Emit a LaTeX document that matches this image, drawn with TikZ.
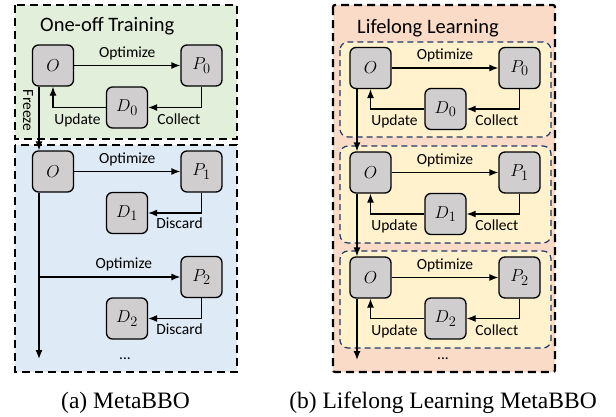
\documentclass[tikz,border=0pt]{standalone}
\usepackage{fontspec}
\setmainfont{Carlito}
\newfontfamily\capfont{Liberation Serif}
\usetikzlibrary{arrows.meta}
\usetikzlibrary{positioning}
\definecolor{greenbg}{HTML}{E2EFDA}
\definecolor{bluebg}{HTML}{DEEBF7}
\definecolor{orangebg}{HTML}{FADBC8}
\definecolor{yellowbg}{HTML}{FFF2CC}
\definecolor{blockgray}{HTML}{D0CECE}
\definecolor{stagenavy}{HTML}{1F3864}
\tikzset{blk/.style = {draw, fill=blockgray, line width=1.3pt, rounded corners=6pt,
    minimum width=41pt, minimum height=41pt, inner sep=0, font=\fontsize{19}{19}\selectfont},
  arr/.style = {-{Latex[length=9pt,width=7pt]}, line width=1.3pt},
  lbl/.style = {inner sep=0, font=\fontsize{15.5}{16}\selectfont},
  outerbox/.style = {line width=2.2pt, dash pattern=on 8pt off 5pt},
  stagebox/.style = {draw=stagenavy, fill=yellowbg, line width=1.2pt,
    dash pattern=on 6pt off 4pt, rounded corners=8pt}}
\begin{document}
\begin{tikzpicture}[x=1pt, y=-1pt]
      \useasboundingbox (0, 0) rectangle (616, 416);
      % (a) MetaBBO
      \draw [outerbox, fill=greenbg] (15, 5) rectangle (237, 139);
      \draw [outerbox, fill=bluebg] (15, 145) rectangle (237, 372);
      \node [lbl, anchor=base west, font=\fontsize{20.5}{21}\selectfont] (traintitle) at (40, 31) {One-off Training};

      \node [blk] (O0) at (53, 65.5) {$O$};
      \node [blk] (P0) at (201.5, 65.5) {$P_0$};
      \node [blk] (D0) at (127, 107.5) {$D_0$};
      \draw [arr] (O0) -- node [lbl, above=5pt] {Optimize} (P0);
      \draw [arr] (P0.south) |- (D0.east);
      \draw [arr] (D0.west) -| (O0.south);
      \node [lbl, below left=6.5pt and 5pt of D0.west] (upd0) {Update};
      \node [lbl, below right=6.5pt and 9pt of D0.east] (col0) {Collect};

      \node [blk] (O1) at (53, 171.5) {$O$};
      \node [blk] (P1) at (201.5, 171.5) {$P_1$};
      \node [blk] (D1) at (127, 213) {$D_1$};
      \node [blk] (P2) at (201.5, 277) {$P_2$};
      \node [blk] (D2) at (127, 318.5) {$D_2$};

      \draw [arr] ([xshift=-14pt]O0.south) -- ([xshift=-14pt]O1.north);
      \node [lbl, rotate=-90] (freeze) at (28, 110.5) {Freeze};

      \draw [arr] (O1) -- node [lbl, above=5pt] {Optimize} (P1);
      \draw [arr] (P1.south) |- (D1.east);
      \node [lbl, below right=5pt and 8pt of D1.east] (dis1) {Discard};

      \coordinate (trunk) at ([xshift=-14pt]O1.south);
      \coordinate (trunkend) at (39, 359);
      \draw [arr] (trunk) -- (trunkend);
      \draw [arr] (trunk |- P2.west) -- node [lbl, above=5pt, pos=0.6] {Optimize} (P2.west);
      \draw [arr] (P2.south) |- (D2.east);
      \node [lbl, below right=5pt and 8pt of D2.east] (dis2) {Discard};
      \node [lbl] (moreA) at (125, 359) {...};

      \node [anchor=base, font=\capfont\fontsize{23.5}{24}\selectfont] (capA) at (125.5, 408) {(a) MetaBBO};

      % (b) Lifelong Learning MetaBBO
      \draw [outerbox, fill=orangebg, rounded corners=2pt] (333, 5) rectangle (555, 372);
      \node [lbl, anchor=base west, font=\fontsize{20.5}{21}\selectfont] (lifetitle) at (357, 33) {Lifelong Learning};
      \draw [stagebox] (340, 42) rectangle (551, 137);
      \draw [stagebox] (340, 146) rectangle (551, 243);
      \draw [stagebox] (340, 251) rectangle (551, 348);

      \node [blk] (Oa) at (370.5, 68) {$O$};
      \node [blk] (Pa) at (519.5, 68) {$P_0$};
      \node [blk] (Da) at (445.5, 109) {$D_0$};
      \draw [arr] (Oa) -- node [lbl, above=5pt] {Optimize} (Pa);
      \draw [arr] (Pa.south) |- (Da.east);
      \draw [arr] (Da.west) -| (Oa.south);
      \node [lbl, below left=6pt and 6.5pt of Da.west] (upda) {Update};
      \node [lbl, below right=6pt and 8.5pt of Da.east] (cola) {Collect};

      \node [blk] (Ob) at (370.5, 172.5) {$O$};
      \node [blk] (Pb) at (519.5, 172.5) {$P_1$};
      \node [blk] (Db) at (445.5, 214) {$D_1$};
      \draw [arr] (Ob) -- node [lbl, above=5pt] {Optimize} (Pb);
      \draw [arr] (Pb.south) |- (Db.east);
      \draw [arr] (Db.west) -| (Ob.south);
      \node [lbl, below left=6pt and 6.5pt of Db.west] (updb) {Update};
      \node [lbl, below right=6pt and 8.5pt of Db.east] (colb) {Collect};

      \node [blk] (Oc) at (370.5, 277.5) {$O$};
      \node [blk] (Pc) at (519.5, 277.5) {$P_2$};
      \node [blk] (Dc) at (445.5, 318.5) {$D_2$};
      \draw [arr] (Oc) -- node [lbl, above=5pt] {Optimize} (Pc);
      \draw [arr] (Pc.south) |- (Dc.east);
      \draw [arr] (Dc.west) -| (Oc.south);
      \node [lbl, below left=6pt and 6.5pt of Dc.west] (updc) {Update};
      \node [lbl, below right=6pt and 8.5pt of Dc.east] (colc) {Collect};

      \draw [arr] ([xshift=-13.5pt]Oa.south) -- ([xshift=-13.5pt]Ob.north);
      \draw [arr] ([xshift=-13.5pt]Ob.south) -- ([xshift=-13.5pt]Oc.north);
      \coordinate (lifeend) at (357, 360);
      \draw [arr] ([xshift=-13.5pt]Oc.south) -- (lifeend);
      \node [lbl] (moreB) at (443, 359) {...};

      \node [anchor=base, font=\capfont\fontsize{23.5}{24}\selectfont] (capB) at (443, 408) {(b) Lifelong Learning MetaBBO};
    \end{tikzpicture}
\end{document}
